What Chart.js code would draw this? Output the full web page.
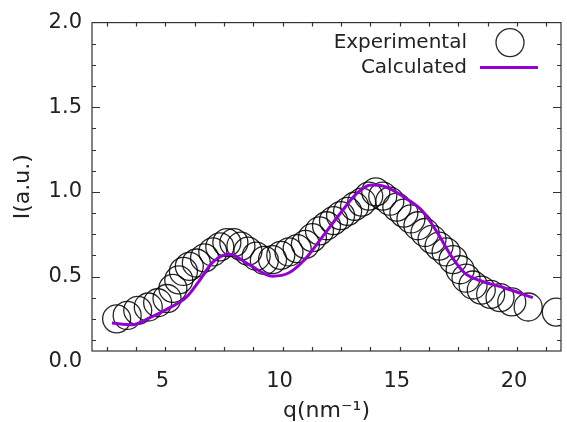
<!DOCTYPE html>
<html>
<head>
<meta charset="utf-8">
<script src="https://cdn.jsdelivr.net/npm/chart.js@4/dist/chart.umd.min.js"></script>
<style>
  body { margin: 0; background: #fff; }
</style>
</head>
<body>
<canvas id="saxs" width="567" height="422"></canvas>
<script>
// experimental points
const qExp = [3.05, 3.5, 3.95, 4.4, 4.8, 5.2, 5.45, 5.7, 5.9, 6.15, 6.45, 6.8, 7.15, 7.45, 7.75,
  8.05, 8.35, 8.65, 9.0, 9.35, 9.7, 10.05, 10.4, 10.75, 11.1, 11.4, 11.7, 12.0, 12.3, 12.6,
  12.9, 13.2, 13.5, 13.8, 14.1, 14.4, 14.7, 15.0, 15.3, 15.6, 15.9, 16.2, 16.5, 16.8, 17.1,
  17.4, 17.7, 17.95, 18.25, 18.6, 19.0, 19.4, 19.9, 20.6, 21.8];
const iExp = [0.25, 0.27, 0.30, 0.32, 0.345, 0.37, 0.43, 0.48, 0.53, 0.56, 0.58, 0.61, 0.645, 0.675, 0.70,
  0.70, 0.68, 0.65, 0.62, 0.595, 0.60, 0.625, 0.645, 0.665, 0.69, 0.73, 0.77, 0.80, 0.83, 0.86,
  0.885, 0.915, 0.94, 0.975, 1.0, 0.975, 0.945, 0.91, 0.875, 0.84, 0.80, 0.76, 0.72, 0.68, 0.645,
  0.60, 0.54, 0.49, 0.45, 0.42, 0.395, 0.375, 0.35, 0.32, 0.29];

// calculated curve
const qCalc = [2.85, 3.7, 4.45, 5.3, 6.0, 6.55, 7.15, 7.85, 8.7, 9.7, 10.4, 11.1, 11.8, 12.6,
  13.25, 13.9, 14.4, 15.4, 16.1, 16.7, 17.35, 17.9, 18.5, 19.6, 20.8];
const iCalc = [0.225, 0.215, 0.255, 0.315, 0.375, 0.47, 0.585, 0.632, 0.57, 0.502, 0.522, 0.605, 0.73, 0.875,
  0.985, 1.04, 1.035, 0.96, 0.885, 0.765, 0.615, 0.52, 0.478, 0.432, 0.375];

const xTicks = [5, 10, 15, 20];
const yTicks = [0, 0.5, 1.0, 1.5, 2.0];
const xMinorStep = 1.25;
const yMinorStep = 0.125;

const ink = '#222';
const purple = '#9400d3';

const toPoints = (xs, ys) => xs.map((v, i) => ({ x: v, y: ys[i] }));

// gnuplot style frame with inward ticks on all four sides
const frameTicks = {
  id: 'frameTicks',
  afterDraw(chart) {
    const { ctx, chartArea: a, scales: { x, y } } = chart;
    ctx.save();
    ctx.strokeStyle = '#333';
    ctx.lineWidth = 1.2;
    ctx.strokeRect(a.left, a.top, a.right - a.left, a.bottom - a.top);
    ctx.beginPath();
    for (let v = x.min + xMinorStep / 2; v < x.max; v += xMinorStep) {
      const px = Math.round(x.getPixelForValue(v)) + 0.5;
      const len = xTicks.includes(v) ? 8 : 4;
      ctx.moveTo(px, a.bottom); ctx.lineTo(px, a.bottom - len);
      ctx.moveTo(px, a.top); ctx.lineTo(px, a.top + len);
    }
    for (let v = yMinorStep; v < y.max; v += yMinorStep) {
      const py = Math.round(y.getPixelForValue(v)) + 0.5;
      const len = yTicks.includes(v) ? 8 : 4;
      ctx.moveTo(a.left, py); ctx.lineTo(a.left + len, py);
      ctx.moveTo(a.right, py); ctx.lineTo(a.right - len, py);
    }
    ctx.stroke();
    ctx.restore();
  }
};

// key in the top right corner, text first then sample
const keyBox = {
  id: 'keyBox',
  afterDraw(chart) {
    const { ctx, chartArea: a } = chart;
    const ds = chart.data.datasets;
    ctx.save();
    ctx.font = '20px "DejaVu Sans"';
    ctx.fillStyle = ink;
    ctx.textAlign = 'right';
    ctx.textBaseline = 'middle';
    ctx.fillText(ds[1].label, a.right - 94, a.top + 20);
    ctx.fillText(ds[0].label, a.right - 94, a.top + 45);
    ctx.strokeStyle = ds[1].borderColor;
    ctx.lineWidth = ds[1].borderWidth;
    ctx.beginPath();
    ctx.arc(a.right - 51, a.top + 20, ds[1].pointRadius, 0, Math.PI * 2);
    ctx.stroke();
    ctx.strokeStyle = ds[0].borderColor;
    ctx.lineWidth = ds[0].borderWidth;
    ctx.beginPath();
    ctx.moveTo(a.right - 81, a.top + 45);
    ctx.lineTo(a.right - 23, a.top + 45);
    ctx.stroke();
    ctx.restore();
  }
};

new Chart(document.getElementById('saxs'), {
  type: 'scatter',
  data: {
    datasets: [
      {
        label: 'Calculated',
        data: toPoints(qCalc, iCalc),
        showLine: true,
        borderColor: purple,
        borderWidth: 3,
        pointRadius: 0,
        cubicInterpolationMode: 'monotone',
        order: 0
      },
      {
        label: 'Experimental',
        data: toPoints(qExp, iExp),
        pointStyle: 'circle',
        pointRadius: 14,
        borderColor: 'rgba(0,0,0,0.85)',
        borderWidth: 1.3,
        backgroundColor: 'rgba(0,0,0,0)',
        order: 1,
        clip: 0
      }
    ]
  },
  options: {
    responsive: false,
    animation: false,
    layout: { autoPadding: false, padding: { top: 21, right: 6, left: 0, bottom: 0 } },
    plugins: { legend: { display: false }, tooltip: { enabled: false } },
    scales: {
      x: {
        type: 'linear',
        min: 2,
        max: 22,
        afterBuildTicks: s => { s.ticks = xTicks.map(v => ({ value: v })); },
        afterFit: s => { s.height = 71; },
        grid: { display: false, drawTicks: false },
        border: { display: false },
        ticks: { color: ink, font: { family: 'DejaVu Sans', size: 21 }, padding: 18, maxRotation: 0 },
        title: { display: true, text: 'q(nm⁻¹)', color: ink, font: { family: 'DejaVu Sans', size: 22, lineHeight: 1 }, padding: 0 }
      },
      y: {
        type: 'linear',
        min: 0.06,
        max: 2.0,
        afterBuildTicks: s => { s.ticks = yTicks.map(v => ({ value: v })); },
        afterFit: s => { s.width = 92; },
        grid: { display: false, drawTicks: false },
        border: { display: false },
        ticks: { color: ink, font: { family: 'DejaVu Sans', size: 21 }, padding: 10, callback: v => v.toFixed(1) },
        title: { display: true, text: 'I(a.u.)', color: ink, font: { family: 'DejaVu Sans', size: 22, lineHeight: 1 }, padding: { top: 12, bottom: 0 } }
      }
    }
  },
  plugins: [frameTicks, keyBox]
});
</script>
</body>
</html>
